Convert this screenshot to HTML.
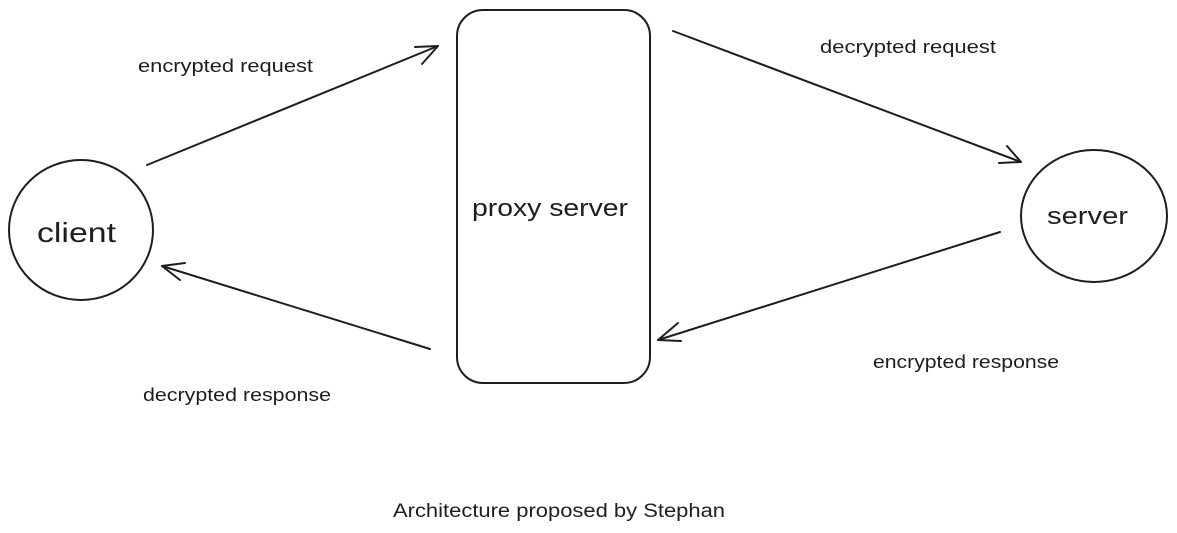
<!DOCTYPE html>
<html><head><meta charset="utf-8"><style>
html,body{margin:0;padding:0;background:#fff;}
svg{display:block;}
text{font-family:"Liberation Sans",sans-serif;fill:#1e1e1e;}
</style></head><body>
<svg width="1177" height="533" viewBox="0 0 1177 533" xmlns="http://www.w3.org/2000/svg">
<g fill="none" stroke="#1e1e1e" stroke-width="2" stroke-linecap="round" stroke-linejoin="round">
<ellipse cx="81" cy="230" rx="72" ry="70"/>
<rect x="457" y="10" width="193" height="373" rx="26"/>
<ellipse cx="1094" cy="216" rx="73" ry="66"/>
<line x1="147" y1="165" x2="438" y2="46"/>
<polyline points="415,47 438,46 422,64"/>
<line x1="673" y1="31" x2="1021" y2="162"/>
<polyline points="1007,146 1021,162 999,163"/>
<line x1="1000" y1="232" x2="658" y2="340"/>
<polyline points="678,323 658,340 681,341"/>
<line x1="430" y1="349" x2="162" y2="266"/>
<polyline points="185,263 162,266 180,280"/>
</g>
<text x="138" y="72" font-size="18" textLength="175" lengthAdjust="spacingAndGlyphs">encrypted request</text>
<text x="820" y="53" font-size="18" textLength="176" lengthAdjust="spacingAndGlyphs">decrypted request</text>
<text x="873" y="368" font-size="18" textLength="186" lengthAdjust="spacingAndGlyphs">encrypted response</text>
<text x="143" y="401" font-size="18" textLength="188" lengthAdjust="spacingAndGlyphs">decrypted response</text>
<text x="37" y="242" font-size="28" textLength="79" lengthAdjust="spacingAndGlyphs">client</text>
<text x="472" y="216" font-size="24" textLength="156" lengthAdjust="spacingAndGlyphs">proxy server</text>
<text x="1047" y="224" font-size="24" textLength="81" lengthAdjust="spacingAndGlyphs">server</text>
<text x="393" y="517" font-size="19" textLength="332" lengthAdjust="spacingAndGlyphs">Architecture proposed by Stephan</text>
</svg>
</body></html>
